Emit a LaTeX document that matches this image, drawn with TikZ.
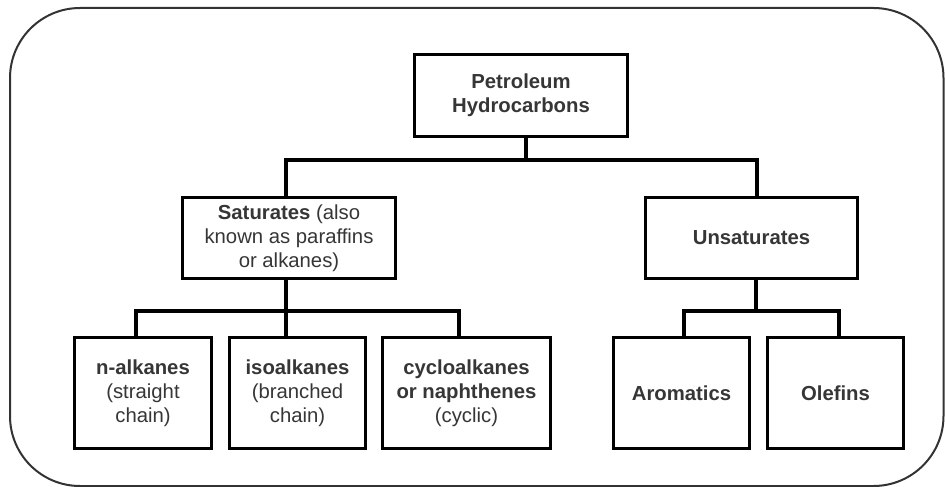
\documentclass[tikz,border=0pt]{standalone}
\usepackage{fontspec}
\setmainfont{Liberation Sans}
\definecolor{txt}{HTML}{363636}
\definecolor{frame}{HTML}{333333}
\begin{document}
\begin{tikzpicture}[x=1pt,y=1pt,
  box/.style={draw=black, line width=3.4pt, fill=white, align=center, inner sep=0pt,
    text=txt, font=\fontsize{20.3}{24}\selectfont},
  conn/.style={draw=black, line width=3.4pt}]
\useasboundingbox (0,0) rectangle (945,-487);
\draw[frame, line width=2pt, rounded corners=70pt] (10,-8) rectangle (943.5,-486);

\node[box, minimum width=213pt, minimum height=82pt] (top) at (521,-95.5) {\textbf{Petroleum}\\\textbf{Hydrocarbons}};
\node[box, minimum width=213pt, minimum height=81pt] (sat) at (289,-238) {\textbf{Saturates} (also\\known as paraffins\\or alkanes)};
\node[box, minimum width=212pt, minimum height=81pt] (unsat) at (751.5,-238) {\textbf{Unsaturates}};
\node[box, minimum width=137pt, minimum height=111pt] (nalk) at (143,-393) {\textbf{n-alkanes}\\(straight\\chain)};
\node[box, minimum width=136pt, minimum height=111pt] (iso) at (297.5,-393) {\textbf{isoalkanes}\\(branched\\chain)};
\node[box, minimum width=168pt, minimum height=111pt] (cyc) at (466.5,-393) {\textbf{cycloalkanes}\\\textbf{or naphthenes}\\(cyclic)};
\node[box, minimum width=136pt, minimum height=111pt] (aro) at (681.5,-393) {\textbf{Aromatics}};
\node[box, minimum width=136pt, minimum height=111pt] (ole) at (835.5,-393) {\textbf{Olefins}};

% top level bus
\coordinate (tb) at (526,-160);
\coordinate (tl) at (286,-160);
\coordinate (tr) at (757,-160);
\draw[conn] (top.south -| tb) -- (tb);
\draw[conn, line join=miter] (sat.north -| tl) -- (tl) -- (tr) -- (unsat.north -| tr);

% saturates bus
\coordinate (sl) at (136,-311);
\coordinate (sm) at (286,-311);
\coordinate (sr) at (459,-311);
\draw[conn] (sat.south -| sm) -- (iso.north -| sm);
\draw[conn, line join=miter] (nalk.north -| sl) -- (sl) -- (sr) -- (cyc.north -| sr);

% unsaturates bus
\coordinate (ul) at (684,-311);
\coordinate (um) at (756,-311);
\coordinate (ur) at (839,-311);
\draw[conn] (unsat.south -| um) -- (um);
\draw[conn, line join=miter] (aro.north -| ul) -- (ul) -- (ur) -- (ole.north -| ur);
\end{tikzpicture}
\end{document}
